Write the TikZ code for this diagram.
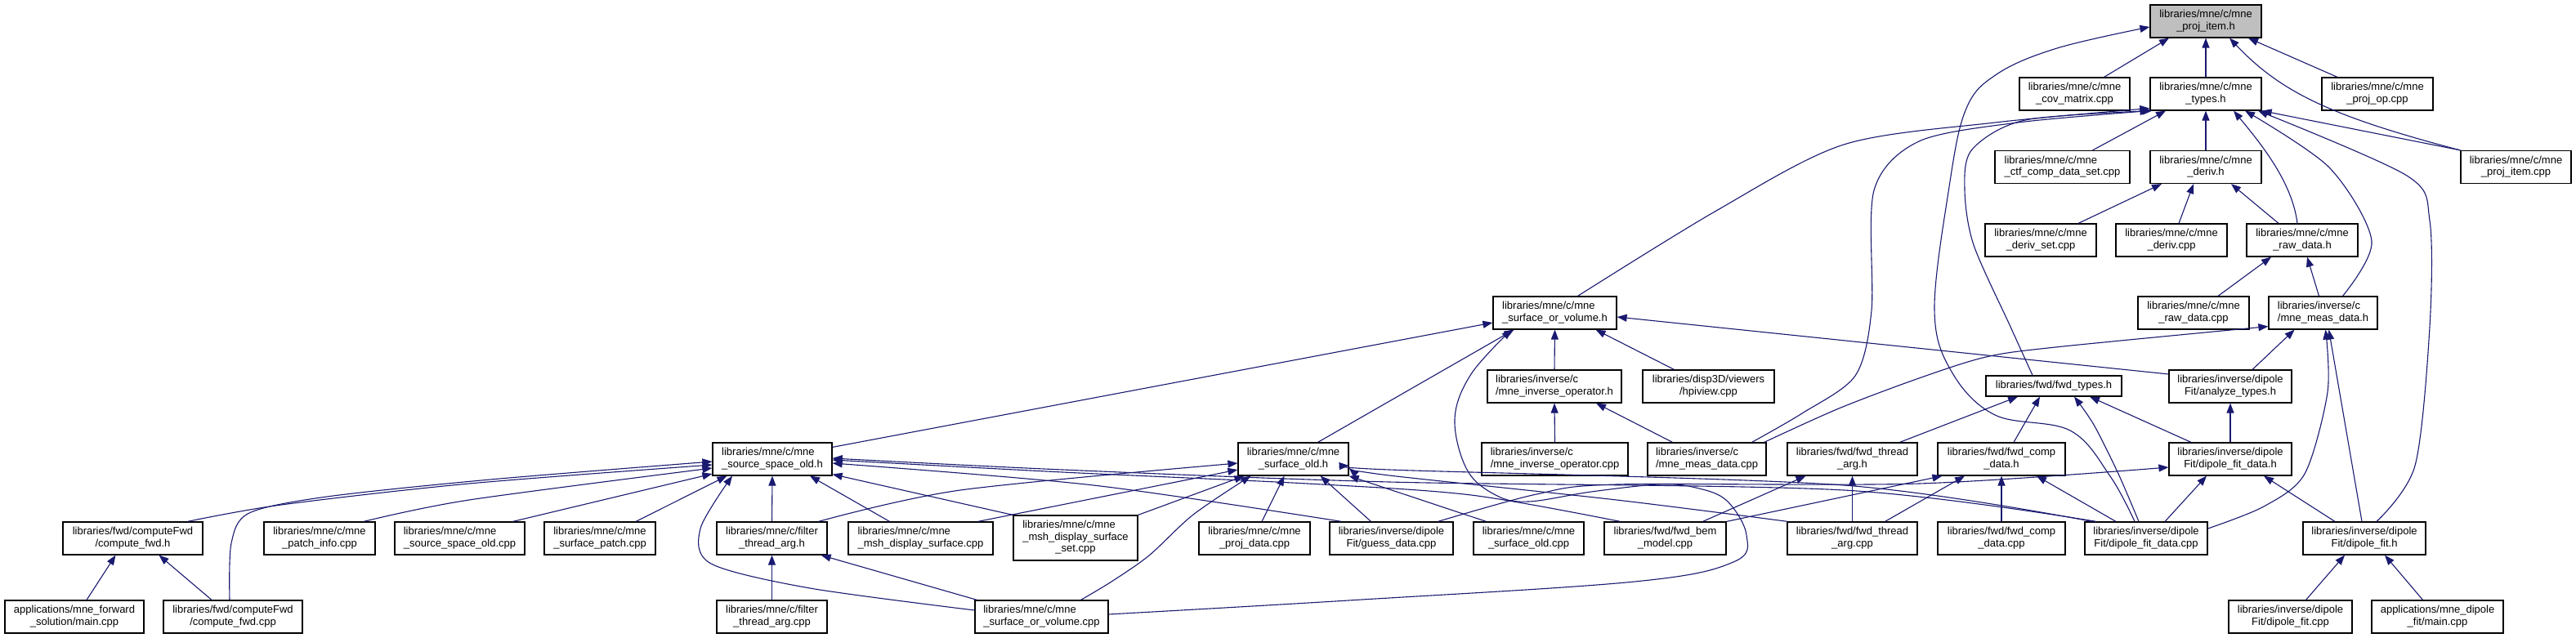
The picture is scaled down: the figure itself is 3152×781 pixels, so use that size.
\documentclass[tikz,border=0pt]{standalone}
\usepackage{fontspec}
\setmainfont{Liberation Sans}
\usetikzlibrary{arrows.meta}
\definecolor{edgec}{HTML}{191970}
\definecolor{rootfill}{HTML}{BFBFBF}
\newcommand\lbl[2]{\begin{tabular}{@{}l@{}}#1\\\multicolumn{1}{@{}c@{}}{#2}\end{tabular}}
\newcommand\lblt[3]{\begin{tabular}{@{}l@{}}#1\\#2\\\multicolumn{1}{@{}c@{}}{#3}\end{tabular}}
\newcommand\mynode[7][]{\node[box,#1,minimum width={#4pt-#3pt},minimum height=#6pt] (#2) at ({(#3+#4)/2},#5) {#7};}
\tikzset{
  box/.style={draw=black, line width=1.2pt, fill=white, inner sep=0pt, font=\fontsize{13pt}{14.5pt}\selectfont},
  e/.style={draw=edgec, line width=1.1pt, -{Triangle[length=12pt,width=9pt]}},
}
\begin{document}
\begin{tikzpicture}[x=1pt,y=-1pt]
\fill[white] (0,0) rectangle (3152,781);
\useasboundingbox (0,0) rectangle (3152,781);
% row 0
\mynode[fill=rootfill]{pih}{2631}{2767}{26}{40}{\lbl{libraries/mne/c/mne}{\_proj\_item.h}}
% row 1
\mynode{cov}{2471}{2606}{115}{40}{\lbl{libraries/mne/c/mne}{\_cov\_matrix.cpp}}
\mynode{types}{2631}{2767}{115}{40}{\lbl{libraries/mne/c/mne}{\_types.h}}
\mynode{projop}{2841}{2977}{115}{40}{\lbl{libraries/mne/c/mne}{\_proj\_op.cpp}}
% row 2
\mynode{ctf}{2441}{2606}{204.5}{40}{\lbl{libraries/mne/c/mne}{\_ctf\_comp\_data\_set.cpp}}
\mynode{deriv}{2631}{2767}{204.5}{40}{\lbl{libraries/mne/c/mne}{\_deriv.h}}
\mynode{pic}{3011}{3146}{204.5}{40}{\lbl{libraries/mne/c/mne}{\_proj\_item.cpp}}
% row 3
\mynode{dset}{2429}{2565}{294}{40}{\lbl{libraries/mne/c/mne}{\_deriv\_set.cpp}}
\mynode{dcpp}{2589}{2725}{294}{40}{\lbl{libraries/mne/c/mne}{\_deriv.cpp}}
\mynode{rawh}{2749}{2885}{294}{40}{\lbl{libraries/mne/c/mne}{\_raw\_data.h}}
% row 4
\mynode{sov}{1827}{1978}{383}{40}{\lbl{libraries/mne/c/mne}{\_surface\_or\_volume.h}}
\mynode{rawcpp}{2616}{2752}{383}{40}{\lbl{libraries/mne/c/mne}{\_raw\_data.cpp}}
\mynode{meash}{2776}{2909}{383}{40}{\lbl{libraries/inverse/c}{/mne\_meas\_data.h}}
% row 5
\mynode{invoph}{1820}{1984}{473}{40}{\lbl{libraries/inverse/c}{/mne\_inverse\_operator.h}}
\mynode{hpi}{2010}{2171}{473}{40}{\lbl{libraries/disp3D/viewers}{/hpiview.cpp}}
\mynode{fwdtypes}{2430}{2596}{472.5}{25}{libraries/fwd/fwd\_types.h}
\mynode{anat}{2654}{2804}{473}{40}{\lbl{libraries/inverse/dipole}{Fit/analyze\_types.h}}
% row 6
\mynode{ssoh}{872}{1018}{562}{40}{\lbl{libraries/mne/c/mne}{\_source\_space\_old.h}}
\mynode{surfoh}{1515}{1650}{562}{40}{\lbl{libraries/mne/c/mne}{\_surface\_old.h}}
\mynode{invopcpp}{1813}{1992}{562}{40}{\lbl{libraries/inverse/c}{/mne\_inverse\_operator.cpp}}
\mynode{meascpp}{2016}{2161}{562}{40}{\lbl{libraries/inverse/c}{/mne\_meas\_data.cpp}}
\mynode{ftah}{2187}{2346}{562}{40}{\lbl{libraries/fwd/fwd\_thread}{\_arg.h}}
\mynode{fcdh}{2371}{2527}{562}{40}{\lbl{libraries/fwd/fwd\_comp}{\_data.h}}
\mynode{dfdh}{2654}{2804}{562}{40}{\lbl{libraries/inverse/dipole}{Fit/dipole\_fit\_data.h}}
% row 7
\mynode{cfh}{77}{248}{659}{40}{\lbl{libraries/fwd/computeFwd}{/compute\_fwd.h}}
\mynode{patch}{323}{459}{659}{40}{\lbl{libraries/mne/c/mne}{\_patch\_info.cpp}}
\mynode{ssocpp}{483}{642}{659}{40}{\lbl{libraries/mne/c/mne}{\_source\_space\_old.cpp}}
\mynode{spatch}{666}{802}{659}{40}{\lbl{libraries/mne/c/mne}{\_surface\_patch.cpp}}
\mynode{filth}{877}{1012}{659}{40}{\lbl{libraries/mne/c/filter}{\_thread\_arg.h}}
\mynode{msh}{1038}{1215}{659}{40}{\lbl{libraries/mne/c/mne}{\_msh\_display\_surface.cpp}}
\mynode{mshset}{1240}{1392}{658.5}{55}{\lblt{libraries/mne/c/mne}{\_msh\_display\_surface}{\_set.cpp}}
\mynode{projdata}{1467}{1603}{659}{40}{\lbl{libraries/mne/c/mne}{\_proj\_data.cpp}}
\mynode{guess}{1627}{1778}{659}{40}{\lbl{libraries/inverse/dipole}{Fit/guess\_data.cpp}}
\mynode{socpp}{1803}{1938}{659}{40}{\lbl{libraries/mne/c/mne}{\_surface\_old.cpp}}
\mynode{bem}{1963}{2112}{659}{40}{\lbl{libraries/fwd/fwd\_bem}{\_model.cpp}}
\mynode{ftacpp}{2187}{2346}{659}{40}{\lbl{libraries/fwd/fwd\_thread}{\_arg.cpp}}
\mynode{fcdcpp}{2371}{2527}{659}{40}{\lbl{libraries/fwd/fwd\_comp}{\_data.cpp}}
\mynode{dfdcpp}{2551}{2701}{659}{40}{\lbl{libraries/inverse/dipole}{Fit/dipole\_fit\_data.cpp}}
\mynode{dfh}{2818}{2968}{659}{40}{\lbl{libraries/inverse/dipole}{Fit/dipole\_fit.h}}
% row 8
\mynode{fsmain}{6}{176}{755}{40}{\lbl{applications/mne\_forward}{\_solution/main.cpp}}
\mynode{cfcpp}{200}{370}{755}{40}{\lbl{libraries/fwd/computeFwd}{/compute\_fwd.cpp}}
\mynode{filtcpp}{877}{1012}{755}{40}{\lbl{libraries/mne/c/filter}{\_thread\_arg.cpp}}
\mynode{sovcpp}{1193}{1356}{755}{40}{\lbl{libraries/mne/c/mne}{\_surface\_or\_volume.cpp}}
\mynode{dfcpp}{2727}{2878}{755}{40}{\lbl{libraries/inverse/dipole}{Fit/dipole\_fit.cpp}}
\mynode{dfmain}{2902}{3063}{755}{40}{\lbl{applications/mne\_dipole}{\_fit/main.cpp}}

% ---- edges to proj_item.h
\draw[e] ([xshift=36pt]cov.north) -- ([xshift=-45pt]pih.south);
\draw[e] (types.north) -- (pih.south);
\draw[e] ([xshift=-49pt]projop.north) -- ([xshift=52pt]pih.south);
\draw[e] (pic.north west) .. controls (2850,142) and (2790,112) .. ([xshift=29pt]pih.south);
\draw[e] plot[smooth,tension=0.6] coordinates {([xshift=-14pt]dfdcpp.north) (2582,583) (2533,527) (2441,508) (2388,455) (2367,380) (2384,235) (2405,135) (2443,91) (2517,59) ([yshift=-7pt]pih.west)};
% ---- edges to types.h
\draw[e] (pic.north west) -- (types.south east);
\draw[e] ([xshift=37pt]ctf.north) -- ([xshift=-49pt]types.south);
\draw[e] (deriv.north) -- (types.south);
\draw[e] ([xshift=-6pt]rawh.north) .. controls (2805,225) and (2770,180) .. ([xshift=34pt]types.south);
\draw[e] plot[smooth] coordinates {([xshift=24pt]meash.north) (2902,295) (2850,205) ([xshift=48pt]types.south)};
\draw[e] plot[smooth] coordinates {([xshift=15pt]dfh.north) (2955,570) (2973,400) (2973,270) (2945,215) ([xshift=64pt]types.south)};
\draw[e] plot[smooth] coordinates {([xshift=28pt]sov.north) (2100,258) (2256,177) (2441,150) ([yshift=3pt]types.south west)};
\draw[e] plot[smooth] coordinates {([xshift=-26pt]fwdtypes.north) (2460,400) (2415,300) (2404,233) (2413,183) (2478,147) ([xshift=3pt]types.south west)};
\draw[e] plot[smooth] coordinates {([xshift=55pt]meascpp.north) (2205,506) (2270,460) (2290,380) (2293,233) (2348,173) (2469,150) (types.south west)};
% ---- deriv, raw data, meas data
\draw[e] ([xshift=46pt]dset.north) -- ([xshift=-54pt]deriv.south);
\draw[e] ([xshift=9pt]dcpp.north) -- ([xshift=-15pt]deriv.south);
\draw[e] ([xshift=-29pt]rawh.north) -- ([xshift=31pt]deriv.south);
\draw[e] ([xshift=30pt]rawcpp.north) -- ([xshift=-38pt]rawh.south);
\draw[e] ([xshift=-5pt]meash.north) -- ([xshift=6pt]rawh.south);
\draw[e] ([xshift=27pt]anat.north) -- ([xshift=-35pt]meash.south);
\draw[e] plot[smooth] coordinates {([xshift=-3pt]meascpp.north east) (2250,500) (2348,463) (2430,437) (2515,425) ([yshift=4pt]meash.south west)};
\draw[e] plot[smooth] coordinates {([yshift=12pt]dfdcpp.east) (2770,620) (2820,580) (2848,480) ([xshift=3pt]meash.south)};
\draw[e] ([xshift=-3pt]dfh.north) -- ([xshift=7pt]meash.south);
% ---- surface_or_volume.h
\draw[e] ([yshift=-6pt]ssoh.north east) -- ([yshift=-12pt]sov.west);
\draw[e] ([xshift=30pt]surfoh.north) -- ([xshift=-50pt]sov.south);
\draw[e] (invoph.north) -- (sov.south);
\draw[e] ([xshift=-42pt]hpi.north) -- ([xshift=50pt]sov.south);
\draw[e] ([yshift=15pt]anat.west) -- ([yshift=-5pt]sov.east);
\draw[e] plot[smooth,tension=0.6] coordinates {([yshift=3pt]sovcpp.east) (1650,735) (2000,712) (2121,688) (2137,655) (2113,613) (2075,597) (2030,593) (1947,602) (1870,614) (1830,606) (1795,575) (1780,513) (1800,458) ([xshift=-53pt]sov.south)};
% ---- inverse operator
\draw[e] (invopcpp.north) -- (invoph.south);
\draw[e] ([xshift=-42pt]meascpp.north) -- ([xshift=51pt]invoph.south);
% ---- fwd_types.h
\draw[e] ([xshift=58pt]ftah.north) -- ([xshift=-44pt]fwdtypes.south);
\draw[e] ([xshift=15pt]fcdh.north) -- ([xshift=-17pt]fwdtypes.south);
\draw[e] plot[smooth] coordinates {([xshift=-9pt]dfdcpp.north) (2592,580) (2562,520) ([xshift=25pt]fwdtypes.south)};
\draw[e] ([xshift=-48pt]dfdh.north) -- ([xshift=44pt]fwdtypes.south);
% ---- dipole fit data
\draw[e] (dfdh.north) -- (anat.south);
\draw[e] plot[smooth] coordinates {([xshift=57pt]guess.north) (1880,605) (1978,593) (2348,592) ([yshift=-10pt]dfdh.west)};
\draw[e] ([xshift=23pt]dfdcpp.north) -- ([xshift=-29pt]dfdh.south);
\draw[e] ([xshift=-36pt]dfh.north) -- ([xshift=41pt]dfdh.south);
% ---- fwd thread / comp
\draw[e] (ftacpp.north) -- (ftah.south);
\draw[e] ([xshift=46pt]bem.north) -- ([xshift=-57pt]ftah.south);
\draw[e] (fcdcpp.north) -- (fcdh.south);
\draw[e] ([xshift=40pt]ftacpp.north) -- ([xshift=-45pt]fcdh.south);
\draw[e] ([xshift=-37pt]dfdcpp.north) -- ([xshift=43pt]fcdh.south);
\draw[e] (bem.north east) -- ([xshift=6pt]fcdh.south west);
% ---- dipole fit
\draw[e] ([xshift=19pt]dfcpp.north) -- ([xshift=-24pt]dfh.south);
\draw[e] ([xshift=-18pt]dfmain.north) -- ([xshift=25pt]dfh.south);
% ---- source_space_old.h
\draw[e] plot[smooth] coordinates {([xshift=67pt]cfh.north) (344,618) (574,592) ([yshift=-7pt]ssoh.west)};
\draw[e] plot[smooth] coordinates {([xshift=-4pt]cfcpp.north) (283,665) (305,628) (400,608) (600,587) ([yshift=-3pt]ssoh.west)};
\draw[e] plot[smooth] coordinates {([xshift=54pt]patch.north) (574,612) ([yshift=-11pt]ssoh.west)};
\draw[e] ([xshift=65pt]ssocpp.north) -- ([yshift=-18pt]ssoh.west);
\draw[e] ([xshift=44pt]spatch.north) -- ([xshift=18pt]ssoh.south west);
\draw[e] plot[smooth] coordinates {([yshift=8pt]sovcpp.west) (991,720) (870,690) (857,647) ([xshift=-49pt]ssoh.south)};
\draw[e] (filth.north) -- (ssoh.south);
\draw[e] ([xshift=-38pt]msh.north) -- ([xshift=46pt]ssoh.south);
\draw[e] (mshset.north west) -- ([yshift=2pt]ssoh.south east);
\draw[e] plot[smooth] coordinates {([xshift=-61pt]guess.north) (1338,594) ([yshift=-5pt]ssoh.east)};
\draw[e] plot[smooth] coordinates {([xshift=-55pt]bem.north) (1800,606) (1600,592) (1300,578) ([yshift=-1pt]ssoh.east)};
\draw[e] plot[smooth] coordinates {([xshift=-61pt]dfdcpp.north) (2256,600) (1700,590) (1300,575) ([yshift=1pt]ssoh.east)};
% ---- filter thread arg, compute fwd
\draw[e] (filtcpp.north) -- (filth.south);
\draw[e] ([xshift=3pt]sovcpp.north west) -- ([xshift=-8pt]filth.south east);
\draw[e] ([xshift=15pt]fsmain.north) -- ([xshift=-21pt]cfh.south);
\draw[e] ([xshift=-26pt]cfcpp.north) -- ([xshift=32pt]cfh.south);
% ---- surface_old.h
\draw[e] plot[smooth] coordinates {([xshift=57pt]filth.north) (1175,600) ([yshift=-5pt]surfoh.west)};
\draw[e] ([xshift=70pt]msh.north) -- ([yshift=-13pt]surfoh.west);
\draw[e] (mshset.north east) -- ([xshift=8pt]surfoh.south west);
\draw[e] plot[smooth] coordinates {([xshift=48pt]sovcpp.north) (1360,712) (1406,680) (1460,630) ([xshift=16pt]surfoh.south west)};
\draw[e] ([xshift=9pt]projdata.north) -- ([xshift=-11pt]surfoh.south);
\draw[e] ([xshift=-25pt]guess.north) -- ([xshift=-35pt]surfoh.south east);
\draw[e] ([xshift=-52pt]socpp.north) -- (surfoh.south east);
\draw[e] plot[smooth] coordinates {([xshift=-66pt]dfdcpp.north) (2256,594) (1700,575) ([yshift=-8pt]surfoh.east)};
\draw[e] plot[smooth] coordinates {([xshift=-79pt]ftacpp.north) (1978,612) (1700,582) ([yshift=-11pt]surfoh.east)};
\end{tikzpicture}
\end{document}
